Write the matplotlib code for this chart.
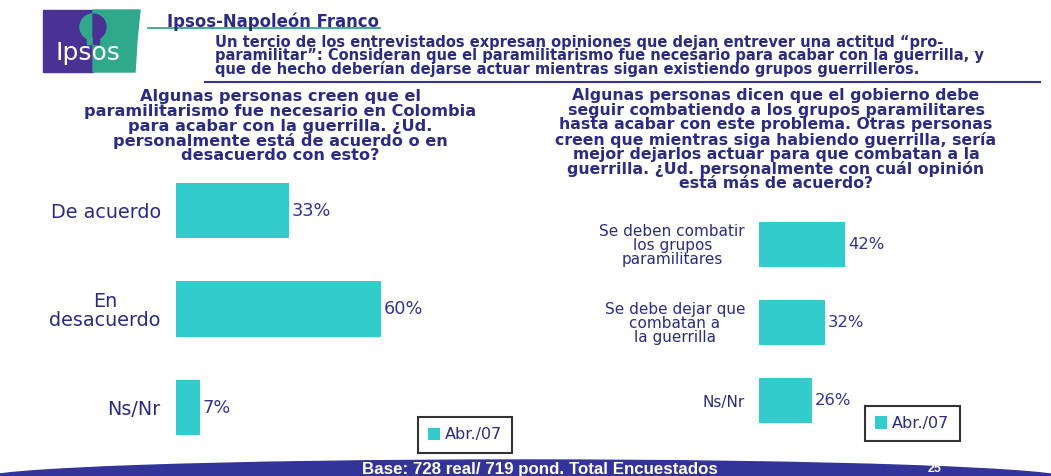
import matplotlib
matplotlib.use("Agg")
import matplotlib.pyplot as plt
from matplotlib.patches import Rectangle, Ellipse, Wedge, Polygon
import numpy as np

# ---------------- data ----------------
left_categories = ["De acuerdo", "En\ndesacuerdo", "Ns/Nr"]
left_values = [33, 60, 7]
right_categories = ["Se deben combatir\nlos grupos\nparamilitares",
                    "Se debe dejar que\ncombatan a\nla guerrilla",
                    "Ns/Nr"]
right_values = [42, 32, 26]
series_name = "Abr./07"

brand = "Ipsos-Napoleón Franco"
heading_lines = [
    "Un tercio de los entrevistados expresan opiniones que dejan entrever una actitud “pro-",
    "paramilitar”: Consideran que el paramilitarismo fue necesario para acabar con la guerrilla, y",
    "que de hecho deberían dejarse actuar mientras sigan existiendo grupos guerrilleros.",
]
left_question = [
    "Algunas personas creen que el",
    "paramilitarismo fue necesario en Colombia",
    "para acabar con la guerrilla. ¿Ud.",
    "personalmente está de acuerdo o en",
    "desacuerdo con esto?",
]
right_question = [
    "Algunas personas dicen que el gobierno debe",
    "seguir combatiendo a los grupos paramilitares",
    "hasta acabar con este problema. Otras personas",
    "creen que mientras siga habiendo guerrilla, sería",
    "mejor dejarlos actuar para que combatan a la",
    "guerrilla. ¿Ud. personalmente con cuál opinión",
    "está más de acuerdo?",
]
footer_text = "Base: 728 real/ 719 pond. Total Encuestados"
page_number = "25"

# ---------------- style ----------------
BAR = "#33CCCC"
NAVY = "#2B2B85"
BLUE = "#333399"
PURPLE = "#4A3294"
TEAL = "#30A88C"

W, H = 1051, 476
fig = plt.figure(figsize=(W / 100, H / 100), dpi=100)
fig.patch.set_facecolor("white")
plt.rcParams["font.family"] = ["DejaVu Sans"]


def axes_px(x0, y0, x1, y1):
    """Axes from pixel box (top-left origin)."""
    return fig.add_axes([x0 / W, 1 - y1 / H, (x1 - x0) / W, (y1 - y0) / H])


# overlay in pixel coordinates
ov = fig.add_axes([0, 0, 1, 1])
ov.set_xlim(0, W)
ov.set_ylim(H, 0)
ov.axis("off")
ov.patch.set_alpha(0)

renderer = fig.canvas.get_renderer()


def fit_lines(texts, target_w):
    widths = [t.get_window_extent(renderer).width for t in texts]
    s = target_w / max(widths)
    for t in texts:
        t.set_fontsize(t.get_fontsize() * s)


# ---------------- header ----------------
ov.add_patch(Rectangle((43, 10), 50, 62, color=PURPLE, zorder=2))
ov.add_patch(Polygon([(93, 10), (140, 10), (137, 40), (135, 72), (93, 72)],
                     closed=True, color=TEAL, zorder=2))
ov.add_patch(Wedge((93, 27), 13, 90, 270, color=TEAL, zorder=3))
ov.add_patch(Wedge((93, 27), 13, -90, 90, color=PURPLE, zorder=3))
ov.add_patch(Rectangle((87, 38), 6, 6, color=TEAL, zorder=3))
ov.add_patch(Rectangle((93, 38), 6, 6, color=PURPLE, zorder=3))
ov.text(88, 53, "Ipsos", color="white", fontsize=18, ha="center", va="center", zorder=4)

ov.plot([148, 380], [27.5, 27.5], color=TEAL, lw=1.3, zorder=2)
tb = ov.text(167, 27, brand, color=NAVY, fontsize=11, fontweight="bold",
             ha="left", va="baseline", zorder=3)
fit_lines([tb], 211)

heading_y = [42.5, 55.5, 69.2]
hl = [ov.text(215, yy, s, color=NAVY, fontsize=10, fontweight="bold",
              ha="left", va="center") for yy, s in zip(heading_y, heading_lines)]
fit_lines(hl, 770)
ov.plot([205, 1040], [82, 82], color=BLUE, lw=1.5)

lq = [ov.text(280, 97 + 14.7 * i, s, color=NAVY, fontsize=10, fontweight="bold",
              ha="center", va="center") for i, s in enumerate(left_question)]
fit_lines(lq, 391)
rq = [ov.text(776, 95.5 + 14.7 * i, s, color=NAVY, fontsize=10, fontweight="bold",
              ha="center", va="center") for i, s in enumerate(right_question)]
fit_lines(rq, 440)


# ---------------- bar charts ----------------
def bar_panel(ax, cats, vals, height, lab_size, val_size, lab_ls):
    y = np.arange(len(cats))
    bars = ax.barh(y, vals, height=height, color=BAR, label=series_name)
    ax.set_xlim(0, 100)
    ax.set_ylim(len(cats) - 0.5, -0.5)
    ax.set_yticks(y)
    ax.set_yticklabels(cats, fontsize=lab_size, color=NAVY, linespacing=lab_ls)
    for lbl in ax.get_yticklabels():
        lbl.set_multialignment("center")
    ax.tick_params(axis="y", length=0, pad=11)
    ax.set_xticks([])
    for s in ax.spines.values():
        s.set_visible(False)
    ax.patch.set_alpha(0)
    for v, yy in zip(vals, y):
        ax.annotate(f"{v}%", (v, yy), xytext=(2, 0), textcoords="offset points",
                    ha="left", va="center", fontsize=val_size, color=BLUE)
    return bars


axL = axes_px(176, 161.25, 176 + 342, 456.75)
barsL = bar_panel(axL, left_categories, left_values, 0.56, 13.8, 12.8, 1.0)

axR = axes_px(759, 205.5, 759 + 205, 439.5)
barsR = bar_panel(axR, right_categories, right_values, 0.58, 11, 11.8, 0.92)
axR.tick_params(axis="y", pad=10)


def make_legend(bars, cx, cy):
    lg = fig.legend([bars], [series_name], loc="center",
                    bbox_to_anchor=(cx / W, 1 - cy / H),
                    fontsize=11.5, handlelength=0.75, handleheight=0.8,
                    handletextpad=0.3, borderpad=0.65, fancybox=False,
                    frameon=True, labelcolor=NAVY)
    fr = lg.get_frame()
    fr.set_edgecolor("black")
    fr.set_linewidth(1.5)
    return lg


make_legend(barsL, 465, 435)
make_legend(barsR, 912.5, 423.5)

# ---------------- footer ----------------
ov.add_patch(Ellipse((525, 479), 1090, 38, color=BLUE, zorder=5))
ft = ov.text(540, 469.5, footer_text, color="white", fontsize=9, fontweight="bold",
             ha="center", va="center", zorder=6, family=["Liberation Sans", "DejaVu Sans"])
fit_lines([ft], 355)
ov.text(935, 469.5, page_number, color="white", fontsize=9, fontweight="bold",
        ha="center", va="center", zorder=6, family=["Liberation Sans", "DejaVu Sans"])

fig.savefig("out.png", dpi=100, facecolor="white")
